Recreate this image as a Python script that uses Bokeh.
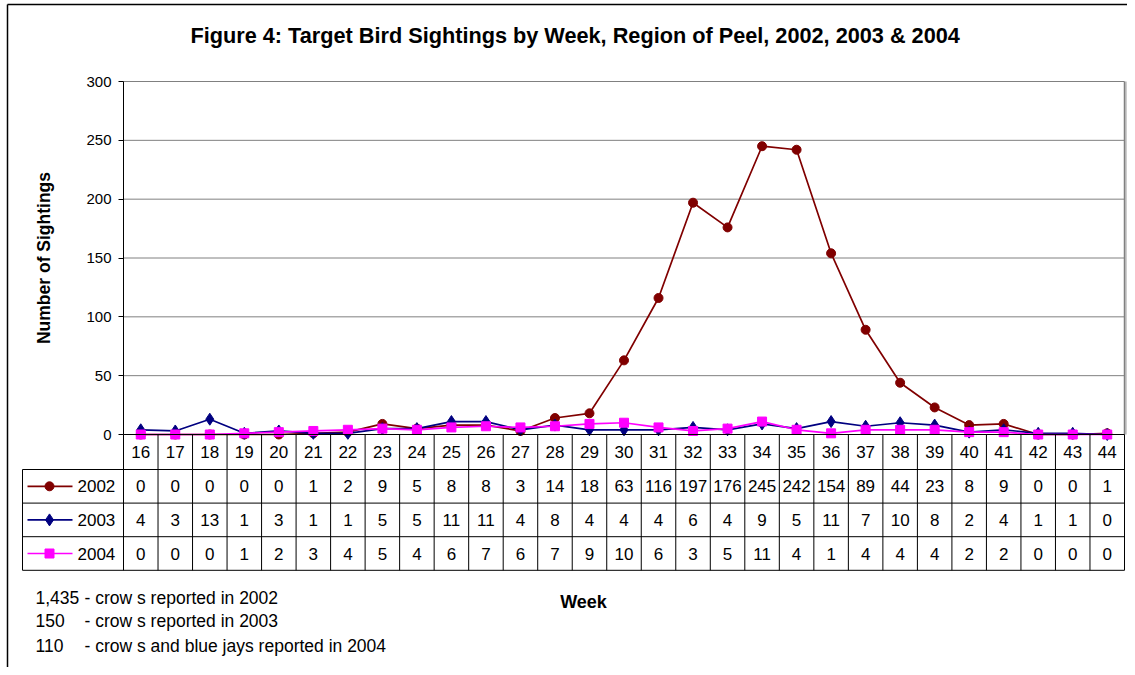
from bokeh.plotting import figure
from bokeh.models import Range1d, FixedTicker, ColumnDataSource
from bokeh.core.properties import value
from bokeh.embed import file_html
from bokeh.resources import INLINE

# ---------------- data ----------------
weeks = list(range(16, 45))
sightings_2002 = [0, 0, 0, 0, 0, 1, 2, 9, 5, 8, 8, 3, 14, 18, 63, 116, 197, 176, 245, 242, 154, 89, 44, 23, 8, 9, 0, 0, 1]
sightings_2003 = [4, 3, 13, 1, 3, 1, 1, 5, 5, 11, 11, 4, 8, 4, 4, 4, 6, 4, 9, 5, 11, 7, 10, 8, 2, 4, 1, 1, 0]
sightings_2004 = [0, 0, 0, 1, 2, 3, 4, 5, 4, 6, 7, 6, 7, 9, 10, 6, 3, 5, 11, 4, 1, 4, 4, 4, 2, 2, 0, 0, 0]
series_names = ["2002", "2003", "2004"]
y_ticks = [0, 50, 100, 150, 200, 250, 300]
title_text = "Figure 4: Target Bird Sightings by Week, Region of Peel, 2002, 2003 & 2004"
y_label = "Number of Sightings"
x_label = "Week"
footnote_counts = ["1,435", "150", "110"]
footnote_texts = ["- crow s reported in 2002", "- crow s reported in 2003",
                  "- crow s and blue jays reported in 2004"]

series_values = [sightings_2002, sightings_2003, sightings_2004]
series_colors = ["#800000", "#000080", "#FF00FF"]
series_markers = ["circle", "diamond", "square"]
series_sizes = [9, 12, 9]

FONT = value("Liberation Sans")

# ---------------- layout (pixels inside the figure) ----------------
W, H = 1127, 667
PA_L, PA_R, PA_T, PA_B = 123, 1124, 81, 434   # plot area
HDR_B = 469                                   # bottom of week-number row
ROW_H = 33.6
TABLE_L = 22
BORDER_X, BORDER_Y = 7, 4

n = len(weeks)
cw = (PA_R - PA_L) / n
x0 = weeks[0] - 0.5
x1 = weeks[-1] + 0.5
ky = (PA_B - PA_T) / 300.0


def px_x(px):
    return x0 + (px - PA_L) / cw


def py_v(py):          # pixel row -> value units
    return (PA_B - py) / ky


def py_r(py):          # pixel row -> table-row units
    return (py - HDR_B) / ROW_H


p = figure(width=W, height=H,
           x_range=Range1d(px_x(0), px_x(W)),
           y_range=Range1d(py_v(H), py_v(0)),
           x_axis_location=None,
           output_backend="svg", toolbar_location=None,
           min_border_left=0, min_border_right=0, min_border_top=0, min_border_bottom=0)
p.extra_y_ranges = {"table": Range1d(py_r(H), py_r(0))}
p.outline_line_color = None
p.background_fill_color = "white"
p.border_fill_color = "white"
p.xgrid.visible = False
p.ygrid.visible = False

# ---- y axis, fixed at the left edge of the plot area ----
ax = p.yaxis[0]
ax.fixed_location = x0
ax.bounds = (0, 300)
ax.ticker = FixedTicker(ticks=y_ticks)
ax.axis_line_color = "black"
ax.axis_line_width = 1
ax.major_tick_out = 5
ax.major_tick_in = 0
ax.minor_tick_line_color = None
ax.major_tick_line_color = "black"
ax.major_label_text_font = "Liberation Sans"
ax.major_label_text_font_size = "15px"
ax.major_label_text_color = "black"
ax.major_label_standoff = 7
ax.axis_label = y_label
ax.axis_label_text_font = "Liberation Sans"
ax.axis_label_text_font_size = "17.5px"
ax.axis_label_text_font_style = "bold"
ax.axis_label_text_color = "black"
ax.axis_label_standoff = 29

# ---- outer border (left and top) ----
p.segment(x0=[px_x(BORDER_X)], y0=[py_v(BORDER_Y)], x1=[px_x(BORDER_X)], y1=[py_v(H)],
          line_color="black", line_width=1.5)
p.segment(x0=[px_x(BORDER_X)], y0=[py_v(BORDER_Y)], x1=[px_x(W)], y1=[py_v(BORDER_Y)],
          line_color="black", line_width=1.5)

# ---- title ----
p.text(x=[px_x(190)], y=[py_v(35)], text=[title_text], text_align="left",
       text_baseline="middle", text_font=FONT, text_font_size="21.7px",
       text_font_style="bold", text_color="black")

# ---- gridlines and plot-area border ----
gt = y_ticks[1:]
p.segment(x0=[x0] * len(gt), y0=gt, x1=[x1] * len(gt), y1=gt, line_color="#808080", line_width=1)
p.segment(x0=[x1 + 0.04], y0=[0], x1=[x1 + 0.04], y1=[300], line_color="#C8C8C8", line_width=2)
p.segment(x0=[x1], y0=[0], x1=[x1], y1=[300], line_color="#808080", line_width=1.5)

# ---- series ----
for vals, col, mk, sz in zip(series_values, series_colors, series_markers, series_sizes):
    src = ColumnDataSource(dict(x=weeks, y=vals))
    p.line("x", "y", source=src, line_color=col, line_width=1.7)
    p.scatter("x", "y", source=src, marker=mk, size=sz, fill_color=col, line_color=col)

# ---- data table ----
nrows = len(series_names)
edges = [x0 + k for k in range(n + 1)]
hdr_top = py_r(PA_B)
p.segment(x0=[x0], y0=[hdr_top], x1=[x1], y1=[hdr_top], line_color="black", line_width=1,
          y_range_name="table")
hl = list(range(nrows + 1))
p.segment(x0=[px_x(TABLE_L)] * len(hl), y0=hl, x1=[x1] * len(hl), y1=hl,
          line_color="black", line_width=1, y_range_name="table")
p.segment(x0=edges, y0=[hdr_top] * len(edges), x1=edges, y1=[nrows] * len(edges),
          line_color="black", line_width=1, y_range_name="table")
p.segment(x0=[px_x(TABLE_L)], y0=[0], x1=[px_x(TABLE_L)], y1=[nrows],
          line_color="black", line_width=1, y_range_name="table")
p.text(x=weeks, y=[hdr_top / 2.0] * n, text=[str(w) for w in weeks],
       text_align="center", text_baseline="middle", y_range_name="table",
       text_font=FONT, text_font_size="17px", text_color="black")

for r, (name, vals, col, mk, sz) in enumerate(zip(series_names, series_values, series_colors,
                                                   series_markers, series_sizes)):
    yc = r + 0.5
    p.segment(x0=[px_x(27)], y0=[yc], x1=[px_x(72)], y1=[yc], line_color=col, line_width=1.7,
              y_range_name="table")
    p.scatter(x=[px_x(49)], y=[yc], marker=mk, size=sz, fill_color=col, line_color=col,
              y_range_name="table")
    p.text(x=[px_x(77)], y=[yc], text=[name], text_align="left", text_baseline="middle",
           text_font=FONT, text_font_size="17px", text_color="black", y_range_name="table")
    p.text(x=weeks, y=[yc] * n, text=[str(v) for v in vals],
           text_align="center", text_baseline="middle", y_range_name="table",
           text_font=FONT, text_font_size="17px", text_color="black")

# ---- notes and x-axis title ----
note_y = [py_r(597), py_r(620), py_r(645)]
p.text(x=[px_x(35)] * 3, y=note_y, text=footnote_counts, text_align="left",
       text_baseline="middle", text_font=FONT, text_font_size="17.5px", text_color="black",
       y_range_name="table")
p.text(x=[px_x(84)] * 3, y=note_y, text=footnote_texts, text_align="left",
       text_baseline="middle", text_font=FONT, text_font_size="17.5px", text_color="black",
       y_range_name="table")
p.text(x=[px_x(583)], y=[py_r(601)], text=[x_label], text_align="center",
       text_baseline="middle", text_font=FONT, text_font_size="18px",
       text_font_style="bold", text_color="black", y_range_name="table")

open("out.html", "w").write(file_html(p, INLINE))
